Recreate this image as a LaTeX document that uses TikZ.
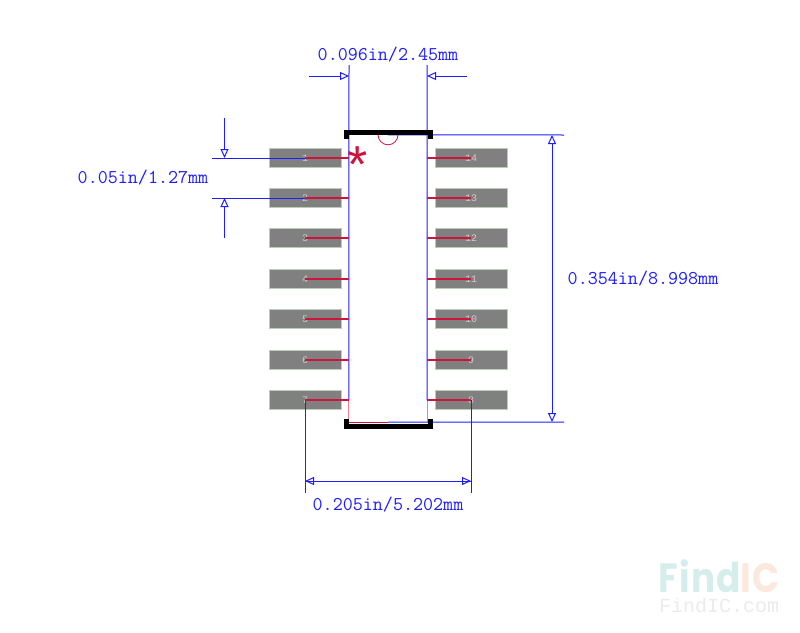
\documentclass[tikz,border=0pt]{standalone}
\usepackage{fontspec}
\setmainfont{Liberation Mono}
\newfontfamily\wmfont[LetterSpace=4]{Poppins Bold}
\newfontfamily\starfont{Liberation Sans}
\usetikzlibrary{arrows.meta}
\definecolor{dimblue}{RGB}{30,30,250}
\definecolor{palered}{RGB}{240,130,150}
\definecolor{pinred}{RGB}{205,20,60}
\definecolor{padgray}{RGB}{128,128,128}
\tikzset{
    pad/.style={inner sep=0mm,draw={rgb,255:red,185;green,205;blue,185},line width=.5pt,fill=padgray,minimum width=72pt,minimum height=19pt,text={rgb,255:red,205;green,205;blue,205},font=\fontsize{10}{10}\selectfont},
    pin/.style={pinred,line width=1.2pt},
    dimline/.style={dimblue,line width=1pt},
    dimtip/.style={dimline,-{Triangle[open,length=9pt,width=8pt]}},
    dimtext/.style={inner sep=0mm,dimblue,font=\ttfamily\fontsize{19.5}{20}\selectfont},
    pkgbar/.style={black,line width=5pt,line join=miter}
}
\begin{document}
\begin{tikzpicture}[x=1pt,y=-1pt]
                \useasboundingbox (0,0) rectangle (800,632);
                \foreach \x/\y/\n in {305/158/1, 305/198/2, 305/238/3, 305/279/4, 305/319/5, 305/360/6, 305/400/7, 471/400/8, 471/360/9, 471/319/10, 471/279/11, 471/238/12, 471/198/13, 471/158/14}
                \node[pad] (p\n) at (\x,\y) {\n};
                \node[inner sep=0mm,minimum width=78pt,minimum height=287pt] (body) at (388,278.5) {};
                % free ends of the dimension lines
                \foreach \x/\y/\n in {349/65/wl, 427/65/wr, 309/76/wla, 467/76/wra, 212/158/pt, 212/198/pb, 224.5/118/pta, 224.5/238/pba, 564/135/ht, 564/422/hb, 552/279/hm, 305/493/sl, 471/493/sr, 305/481/sla, 471/481/sra}
                \coordinate (\n) at (\x,\y);
                % outline of the package
                \draw[palered,line width=1pt] (body.north west) -- (body.north);
                \draw[palered,line width=1pt] (p7.center -| body.west) -- (body.south west) -- (body.south) (body.south east) -- (p8.center -| body.east);
                \draw[pinred,line width=1pt] (body.south west) -- (body.south);
                \draw[pinred,line width=.8pt] (body.north)+(-10,0) arc[start angle=180,end angle=0,radius=10pt,y radius=-10pt];
                \foreach \s/\t in {wl/p7.center -| body.west, wr/p8.center -| body.east, pt/p1.center, pb/p2.center, ht/body.north, hb/body.south, sl/p7.center, sr/p8.center}
                \draw[dimline] (\s) -- (\t);
                \foreach \n in {1,...,7}
                \draw[pin] (p\n.center) -- (p\n.center -| body.west);
                \foreach \n in {8,...,14}
                \draw[pin] (p\n.center) -- (p\n.center -| body.east);
                \foreach \s/\t in {wla/wla -| wl, wra/wra -| wr, pta/pta |- pt, pba/pba |- pb, sla/sra, sra/sla, hm/ht -| hm, hm/hb -| hm}
                \draw[dimtip] (\s) -- (\t);
                % black corners
                \draw[pkgbar] (346,139) -- (346,132) -- (430,132) -- (430,139);
                \draw[pkgbar] (346,419) -- (346,426) -- (430,426) -- (430,419);
                \node[inner sep=0mm,pinred,font=\starfont\fontsize{52}{52}\selectfont] (star) at (357.5,165) {*};
                % dimension texts
                \foreach \x/\y/\n/\t in {388/55/twidth/0.096in\slash 2.45mm, 143/178/tpitch/0.05in\slash 1.27mm, 643/279/theight/0.354in\slash 8.998mm, 388/505/tspan/0.205in\slash 5.202mm}
                \node[dimtext] (\n) at (\x,\y) {\t};
                % watermark
                \node[inner sep=0mm,anchor=base west,xscale=.87,transform shape,font=\wmfont\fontsize{41}{41}\selectfont] (wm) at (658,592) {\textcolor[RGB]{214,238,235}{Find}\textcolor[RGB]{252,232,220}{IC}};
                \node[inner sep=0mm,anchor=base west,text={rgb,255:red,235;green,235;blue,235},font=\fontsize{20}{20}\selectfont] (wmurl) at (659,612) {FindIC.com};
            \end{tikzpicture}
\end{document}
